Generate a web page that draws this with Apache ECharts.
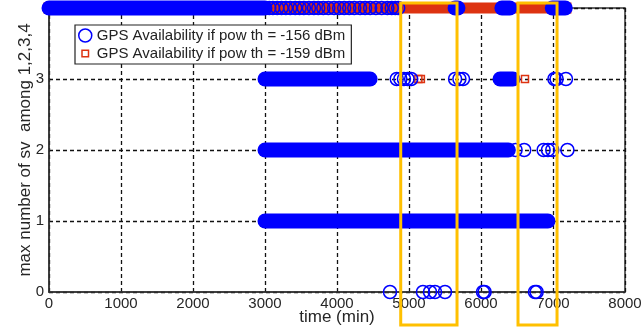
<!DOCTYPE html>
<html>
<head>
<meta charset="utf-8">
<script src="https://cdn.jsdelivr.net/npm/echarts@6/dist/echarts.min.js"></script>
<style>
  html, body { margin: 0; padding: 0; background: #fff; }
  #chart { width: 641px; height: 329px; }
</style>
</head>
<body>
<div id="chart"></div>
<script>
// Availability traces: time (min) vs max number of visible SVs (0..4)
// Continuous stretches are stored as [startMin, endMin, svCount]
const runs156 = [
  [0, 3000, 4], [5640, 5680, 4], [6290, 6400, 4], [6990, 7170, 4],
  [3000, 4460, 3], [6264, 6444, 3],
  [3000, 6380, 2],
  [3000, 6930, 1]
];
// Isolated samples as [timeMin, svCount]
const points156 = [
  [3060, 4], [3110, 4], [3170, 4], [3230, 4], [3290, 4], [3350, 4], [3420, 4],
  [3480, 4], [3540, 4], [3610, 4], [3680, 4], [3740, 4], [3810, 4], [3880, 4],
  [3960, 4], [4030, 4], [4100, 4], [4170, 4], [4240, 4], [4320, 4], [4390, 4],
  [4460, 4], [4540, 4], [4620, 4], [4700, 4], [4760, 4], [4810, 4], [4850, 4],
  [4830, 3], [4880, 3], [4930, 3], [4980, 3], [5030, 3],
  [5640, 3], [5700, 3], [5750, 3],
  [7020, 3], [7050, 3], [7180, 3],
  [6480, 2], [6600, 2], [6870, 2], [6930, 2], [6990, 2], [7200, 2],
  [4736, 0], [5194, 0], [5292, 0], [5361, 0], [5500, 0], [6028, 0], [6050, 0],
  [6750, 0], [6773, 0]
];
const runs159 = [
  [0, 7180, 4]
];
const points159 = [
  [5130, 3], [5165, 3], [6611, 3]
];
// Highlighted time windows [fromMin, toMin]
const windows = [
  [4885, 5667],
  [6514, 7056]
];
const xTicks = { min: 0, max: 8000, interval: 1000 };
const yTicks = { min: 0, max: 4, interval: 1 };

const BLUE = '#0000ff';
const RED = '#dd3311';
const NAME156 = 'GPS Availability if pow th = -156 dBm';
const NAME159 = 'GPS Availability if pow th = -159 dBm';
const FONT = '"Liberation Sans", Arial, sans-serif';

// Solid stretch of back-to-back markers
function runRenderer(color, h, rounded) {
  return function (params, api) {
    const s = api.coord([api.value(0), api.value(2)]);
    const e = api.coord([api.value(1), api.value(2)]);
    return {
      type: 'rect',
      shape: { x: s[0] - h / 2, y: s[1] - h / 2, width: e[0] - s[0] + h, height: h, r: rounded ? h / 2 : 0 },
      style: { fill: color }
    };
  };
}
// Single hollow marker (circle or square)
function markerRenderer(kind, color, size) {
  return function (params, api) {
    const p = api.coord([api.value(0), api.value(1)]);
    if (kind === 'circle') {
      return {
        type: 'circle',
        shape: { cx: p[0], cy: p[1], r: size / 2 },
        style: { fill: 'none', stroke: color, lineWidth: 1.5 }
      };
    }
    return {
      type: 'rect',
      shape: { x: p[0] - size / 2, y: p[1] - size / 2, width: size, height: size },
      style: { fill: 'none', stroke: color, lineWidth: 1.5 }
    };
  };
}

const chart = echarts.init(document.getElementById('chart'), null, { renderer: 'canvas' });

chart.setOption({
  animation: false,
  backgroundColor: '#fff',
  textStyle: { fontFamily: FONT },
  grid: {
    left: 49, right: 16, top: 8, bottom: 37,
    outerBoundsMode: 'none',
    containLabel: false,
    show: true, borderColor: '#333', borderWidth: 1.5
  },
  legend: {
    left: 75, top: 25,
    orient: 'vertical',
    padding: [3, 6, 3, 3],
    itemGap: 3,
    itemWidth: 13, itemHeight: 14,
    backgroundColor: '#fff',
    borderColor: '#222', borderWidth: 1.2,
    borderRadius: 0,
    textStyle: { fontSize: 15, color: '#222', fontFamily: FONT },
    data: [
      { name: NAME156, icon: 'circle',
        itemStyle: { color: 'rgba(0,0,0,0)', borderColor: BLUE, borderWidth: 1.5 } },
      { name: NAME159, icon: 'path://M0 0M14 14M3.5 3.5h7v7h-7z',
        itemStyle: { color: 'rgba(0,0,0,0)', borderColor: RED, borderWidth: 1.5 } }
    ]
  },
  xAxis: {
    type: 'value',
    min: xTicks.min, max: xTicks.max, interval: xTicks.interval,
    name: 'time (min)',
    nameLocation: 'middle', nameGap: 17,
    nameMoveOverlap: false,
    nameTextStyle: { fontSize: 17, color: '#262626', fontFamily: FONT },
    axisLine: { show: true, lineStyle: { color: '#333', width: 1.5 } },
    axisTick: { show: false },
    axisLabel: { fontSize: 15, color: '#262626', margin: 4, fontFamily: FONT,
      formatter: function (v) { return String(v); } },
    splitLine: { show: true, lineStyle: { color: '#111', width: 1.3, type: [4, 3] } }
  },
  yAxis: {
    type: 'value',
    min: yTicks.min, max: yTicks.max, interval: yTicks.interval,
    name: 'max number of sv  among 1,2,3,4',
    nameLocation: 'middle', nameGap: 15,
    nameMoveOverlap: false,
    nameTextStyle: { fontSize: 17, color: '#262626', fontFamily: FONT },
    axisLine: { show: true, lineStyle: { color: '#333', width: 1.5 } },
    axisTick: { show: false },
    axisLabel: { fontSize: 15, color: '#262626', margin: 5, fontFamily: FONT,
      showMaxLabel: false,
      formatter: function (v) { return String(v); } },
    splitLine: { show: true, lineStyle: { color: '#111', width: 1.3, type: [4, 3] } }
  },
  series: [
    {
      name: 'runs -159',
      type: 'custom',
      clip: false,
      z: 2,
      renderItem: runRenderer(RED, 11, false),
      encode: { x: [0, 1], y: 2 },
      data: runs159
    },
    {
      name: NAME159,
      type: 'custom',
      clip: false,
      z: 3,
      renderItem: markerRenderer('square', RED, 7),
      encode: { x: 0, y: 1 },
      data: points159
    },
    {
      name: 'runs -156',
      type: 'custom',
      clip: false,
      z: 4,
      renderItem: runRenderer(BLUE, 15, true),
      encode: { x: [0, 1], y: 2 },
      data: runs156
    },
    {
      name: NAME156,
      type: 'custom',
      clip: false,
      z: 5,
      renderItem: markerRenderer('circle', BLUE, 13),
      encode: { x: 0, y: 1 },
      data: points156
    }
  ]
});

// Highlight frames around the selected time windows
const frames = windows.map(function (w) {
  const a = chart.convertToPixel({ gridIndex: 0 }, [w[0], 0]);
  const b = chart.convertToPixel({ gridIndex: 0 }, [w[1], 0]);
  return {
    type: 'rect',
    z: 100,
    shape: { x: a[0], y: 3, width: b[0] - a[0], height: 322 },
    style: { fill: 'none', stroke: '#ffc000', lineWidth: 3 }
  };
});
chart.setOption({ graphic: frames });
</script>
</body>
</html>
